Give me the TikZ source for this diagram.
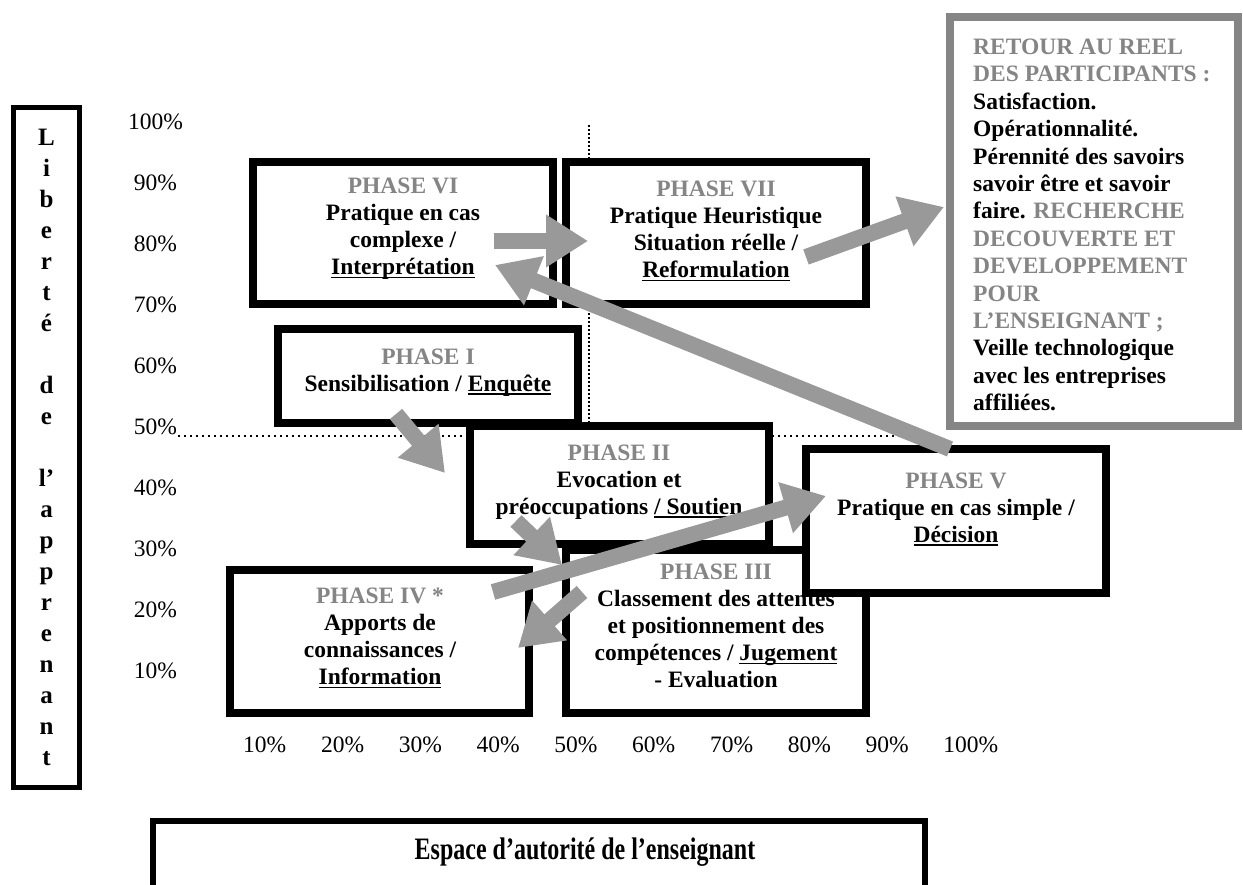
\documentclass[tikz,border=0pt]{standalone}
\usepackage{fontspec}
\setmainfont{Liberation Serif}
\usetikzlibrary{arrows.meta}
\definecolor{phasegray}{HTML}{858585}
\definecolor{arrowgray}{HTML}{999999}
% underline at a fixed distance below the baseline
\newcommand{\uln}[1]{\leavevmode\setbox0=\hbox{#1}\rlap{\rule[-3.5pt]{\wd0}{1.5pt}}\box0}
\newcommand{\gr}[1]{\textcolor{phasegray}{#1}}
\tikzset{
  phasebox/.style={draw=black, line width=8pt, fill=white, inner sep=0pt},
  boxtext/.style={font=\bfseries\fontsize{23.5}{27}\selectfont, align=center, inner sep=0pt},
  pct/.style={font=\fontsize{23.5}{27}\selectfont, inner sep=0pt},
  flow/.style={color=arrowgray, line width=16pt, -{Triangle[length=42pt,width=50pt]}},
  hdots/.style={line width=2pt, dash pattern=on 2pt off 4pt},
  vdots/.style={line width=2pt, dash pattern=on 2pt off 2pt},
}
\begin{document}
\begin{tikzpicture}[x=1pt,y=-1pt]
\useasboundingbox (0,0) rectangle (1243,885);

% vertical axis box
\node[draw=black, line width=5pt, inner sep=0pt, minimum width=66pt, minimum height=680pt] (axisy) at (46.5,447.5) {};
\node[font=\bfseries\fontsize{25}{31}\selectfont, align=center, inner sep=0pt] (axisytext) at (46.5,447)
  {L\\i\\b\\e\\r\\t\\é\\\mbox{}\\d\\e\\\mbox{}\\l’\\a\\p\\p\\r\\e\\n\\a\\n\\t};

% vertical scale
\foreach \v [count=\k from 0] in {100,90,80,70,60,50,40,30,20,10}
  \node[pct] (y\v) at (155.5,122+61*\k) {\v\%};
% horizontal scale
\foreach \v [count=\k from 0] in {10,20,30,40,50,60,70,80,90,100}
  \node[pct, anchor=west] (x\v) at (243+77.8*\k,745) {\v\%};

% 50% guide lines
\coordinate (hl) at (178,436);
\coordinate (hr) at (915,436);
\coordinate (vt) at (589,125);
\coordinate (vb) at (589,422);
\draw[hdots] (hl) -- (hr);
\draw[vdots] (vt) -- (vb);

% phase boxes
\node[phasebox, minimum width=300pt, minimum height=142pt] (b6) at (403,233) {};
\node[phasebox, minimum width=300pt, minimum height=142pt] (b7) at (716,233) {};
\node[phasebox, minimum width=300pt, minimum height=94pt] (b1) at (428,376) {};
\node[phasebox, minimum width=299pt, minimum height=118pt] (b2) at (619.5,485) {};
\node[phasebox, minimum width=300pt, minimum height=163pt] (b3) at (716,631.5) {};
\node[phasebox, minimum width=299pt, minimum height=143pt] (b4) at (379.5,641.5) {};
\node[phasebox, minimum width=300pt, minimum height=144pt] (b5) at (956,521) {};

\node[boxtext] (t6) at (403,229) {\gr{PHASE VI}\\Pratique en cas\\complexe /\\\uln{Interprétation}};
\node[boxtext] (t7) at (716,231) {\gr{PHASE VII}\\Pratique Heuristique\\Situation réelle /\\\uln{Reformulation}};
\node[boxtext] (t1) at (428,372.5) {\gr{PHASE I}\\Sensibilisation / \uln{Enquête}};
\node[boxtext] (t2) at (619,482) {\gr{PHASE II}\\Evocation et\\préoccupations \uln{/ Soutien}};
\node[boxtext] (t3) at (716,626) {\gr{PHASE III}\\Classement des attentes\\et positionnement des\\compétences / \uln{Jugement}\\- Evaluation};
\node[boxtext] (t4) at (380,638) {\gr{PHASE IV *}\\Apports de\\connaissances /\\\uln{Information}};
\node[boxtext] (t5) at (956,509) {\gr{PHASE V}\\Pratique en cas simple /\\\uln{Décision}};

% outcome box
\node[draw=phasegray, line width=8pt, fill=white, inner sep=0pt, minimum width=288pt, minimum height=409pt] (res) at (1094,221.5) {};
\node[font=\bfseries\fontsize{23.5}{27.4}\selectfont, align=left, inner sep=0pt, anchor=west] (restext) at (973,225)
  {\gr{RETOUR AU REEL}\\\gr{DES PARTICIPANTS :}\\Satisfaction.\\Opérationnalité.\\Pérennité des savoirs\\savoir être et savoir\\faire. \gr{RECHERCHE}\\\gr{DECOUVERTE ET}\\\gr{DEVELOPPEMENT}\\\gr{POUR}\\\gr{L’ENSEIGNANT ;}\\Veille technologique\\avec les entreprises\\affiliées.};

% horizontal axis box
\node[draw=black, line width=6pt, inner sep=0pt, minimum width=772pt, minimum height=71pt] (axisx) at (539,856.5) {};
\node[font=\bfseries\fontsize{24}{27}\selectfont, inner sep=0pt] (axisxtext) at (585,852)
  {\scalebox{1}[1.3]{Espace d’autorité de l’enseignant}};

% progression arrows
\coordinate (a1t) at (396,414);  \coordinate (a1h) at (445,473);
\coordinate (a2t) at (516,521);  \coordinate (a2h) at (562,565);
\coordinate (a3t) at (582,592);  \coordinate (a3h) at (518,648);
\coordinate (a4t) at (493,592);  \coordinate (a4h) at (826,496);
\coordinate (a5t) at (950,449);  \coordinate (a5h) at (495,265);
\coordinate (a6t) at (494,241);  \coordinate (a6h) at (588,241);
\coordinate (a7t) at (806,257);  \coordinate (a7h) at (944,207);
\draw[flow] (a1t) -- (a1h);
\draw[flow] (a2t) -- (a2h);
\draw[flow] (a3t) -- (a3h);
\draw[flow] (a4t) -- (a4h);
\draw[flow] (a5t) -- (a5h);
\draw[flow] (a6t) -- (a6h);
\draw[flow] (a7t) -- (a7h);
\end{tikzpicture}
\end{document}
